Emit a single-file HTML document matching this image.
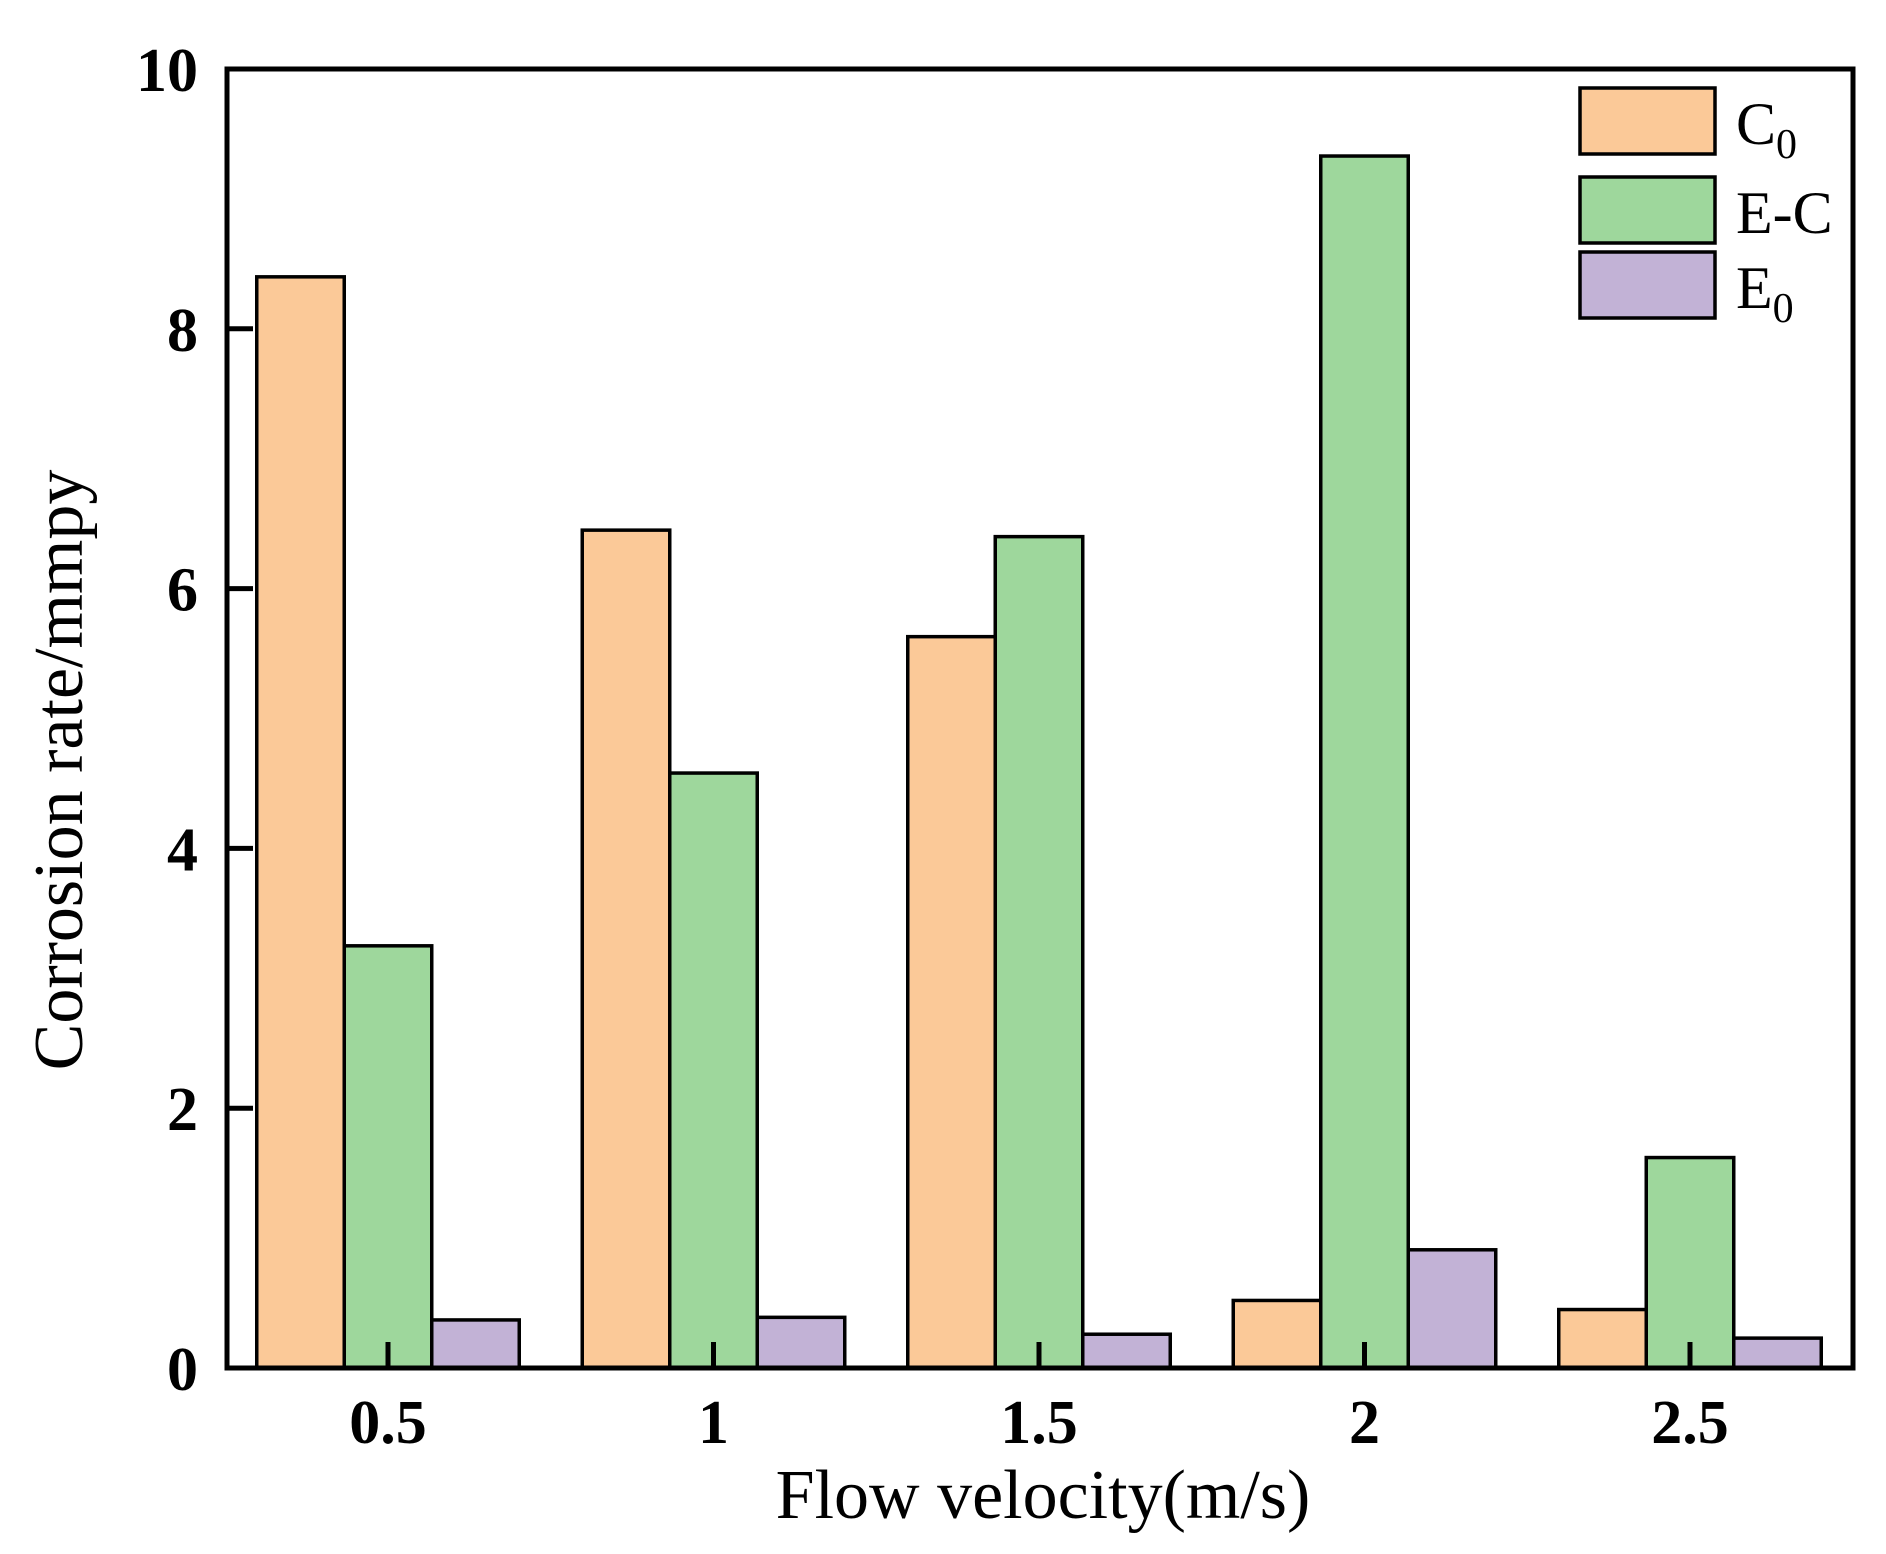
<!DOCTYPE html>
<html><head><meta charset="utf-8"><style>body{margin:0;background:#fff}svg{display:block}</style></head>
<body>
<svg id="chart" width="1886" height="1554" viewBox="0 0 1886 1554" font-family="'Liberation Serif', serif">
<g id="bars"></g>
<g id="axes"></g>
<g id="legend"></g>
<text x="1043" y="1518" font-size="70" text-anchor="middle">Flow velocity(m/s)</text>
<text transform="translate(82,770) rotate(-90)" font-size="70" text-anchor="middle">Corrosion rate/mmpy</text>
</svg>
<script>
const categories = ["0.5","1","1.5","2","2.5"];
const seriesNames = ["C0","E-C","E0"];
const c0Values = [8.4, 6.45, 5.63, 0.52, 0.45];
const ecValues = [3.25, 4.58, 6.4, 9.33, 1.62];
const e0Values = [0.37, 0.39, 0.26, 0.91, 0.23];
const yTicks = [0, 2, 4, 6, 8, 10];

const NS = "http://www.w3.org/2000/svg";
const L = 227, R = 1853, T = 69, B = 1368;
const yMax = 10;
const y = v => B - (v / yMax) * (B - T);
const step = 325.5, first = 388;
const x = i => first + step * i;
const bw = 87.5;
const colors = ["#FBC998", "#9ED79C", "#C2B2D6"];
const series = [c0Values, ecValues, e0Values];

function mk(tag, attrs, parent) {
  const e = document.createElementNS(NS, tag);
  for (const k in attrs) e.setAttribute(k, attrs[k]);
  parent.appendChild(e);
  return e;
}
const bars = document.getElementById('bars');
series.forEach((vals, s) => {
  vals.forEach((v, i) => {
    const r = mk('rect', {x: x(i) - 1.5 * bw + s * bw, y: y(v), width: bw, height: B - y(v), fill: colors[s], stroke: '#000', 'stroke-width': 3.5}, bars);
    
    
  });
});
const axes = document.getElementById('axes');
const frame = mk('rect', {x: L, y: T, width: R - L, height: B - T, fill: 'none', stroke: '#000', 'stroke-width': 5}, axes);


categories.forEach((c, i) => {
  const t = mk('line', {x1: x(i), x2: x(i), y1: B, y2: B - 26, stroke: '#000', 'stroke-width': 5}, axes);
  
  
  const lb = mk('text', {x: x(i), y: 1443, 'font-size': 62, 'font-weight': 'bold', 'text-anchor': 'middle'}, axes);
  lb.textContent = c;
  
  
});
yTicks.forEach(v => {
  const t = mk('line', {x1: L, x2: L + 26, y1: y(v), y2: y(v), stroke: '#000', 'stroke-width': 5}, axes);
  
  
  const lb = mk('text', {x: 198, y: y(v) + 22, 'font-size': 62, 'font-weight': 'bold', 'text-anchor': 'end'}, axes);
  lb.textContent = v;
  
  
});
const legend = document.getElementById('legend');
const legTops = [88, 177, 252];
const labels = [["C","0"],["E-C",""],["E","0"]];
legTops.forEach((ty, s) => {
  const r = mk('rect', {x: 1580, y: ty, width: 135, height: 66, fill: colors[s], stroke: '#000', 'stroke-width': 3.5}, legend);
  
  
  const t = mk('text', {x: 1736, y: ty + 56, 'font-size': 60}, legend);
  
  
  t.appendChild(document.createTextNode(labels[s][0]));
  if (labels[s][1]) {
    const sub = mk('tspan', {'font-size': 42, dy: 14}, t);
    sub.textContent = labels[s][1];
  }
});
</script>
</body></html>
